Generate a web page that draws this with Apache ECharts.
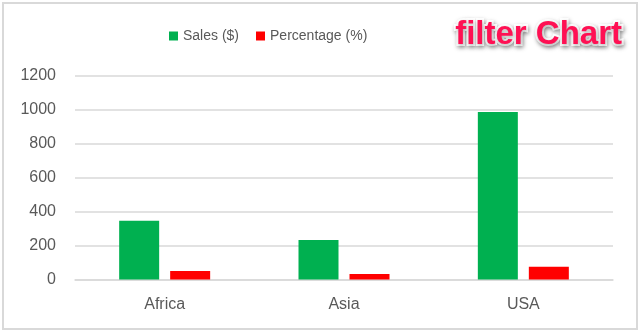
<!DOCTYPE html>
<html>
<head>
<meta charset="utf-8">
<script src="https://cdn.jsdelivr.net/npm/echarts@6/dist/echarts.min.js"></script>
<style>html,body{margin:0;padding:0;background:#fff}#c{width:640px;height:333px}</style>
</head>
<body>
<div id="c"></div>
<script>
var categories = ['Africa', 'Asia', 'USA'];
var salesValues = [345, 233, 985];
var percentValues = [50, 32, 75];
var seriesNames = ['Sales ($)', 'Percentage (%)'];
var yTicks = { min: 0, max: 1200, interval: 200 };
var chartTitle = 'filter Chart';

var chart = echarts.init(document.getElementById('c'), null, { renderer: 'canvas' });
var font = 'Liberation Sans';
chart.setOption({
  animation: false,
  backgroundColor: '#fff',
  title: {
    text: chartTitle,
    right: 9,
    top: 13,
    textStyle: {
      color: '#ff1053',
      fontSize: 33,
      fontWeight: 'bold',
      fontFamily: font,
      textBorderColor: '#fff',
      textBorderWidth: 4,
      textShadowColor: 'rgba(0,0,0,0.35)',
      textShadowBlur: 4,
      textShadowOffsetX: 1,
      textShadowOffsetY: 2
    }
  },
  legend: {
    left: 164,
    top: 24,
    itemWidth: 9,
    itemHeight: 9,
    itemGap: 17,
    icon: 'rect',
    textStyle: { color: '#595959', fontSize: 14, fontFamily: font },
    data: seriesNames
  },
  grid: { left: 75, right: 27, top: 75.5, bottom: 53.5 },
  xAxis: {
    type: 'category',
    data: categories,
    axisLine: { lineStyle: { color: '#d9d9d9', width: 1.5 } },
    axisTick: { show: false },
    axisLabel: { color: '#595959', fontSize: 16, fontFamily: font, margin: 17 }
  },
  yAxis: {
    type: 'value',
    min: yTicks.min,
    max: yTicks.max,
    interval: yTicks.interval,
    axisLine: { show: false },
    axisTick: { show: false },
    splitLine: { lineStyle: { color: '#d9d9d9', width: 1.5 } },
    axisLabel: { color: '#595959', fontSize: 16, fontFamily: font, margin: 19, formatter: function (v) { return String(v); } }
  },
  series: [
    { name: seriesNames[0], type: 'bar', data: salesValues, barWidth: 40, barGap: '27.5%', itemStyle: { color: '#00b050' } },
    { name: seriesNames[1], type: 'bar', data: percentValues, barWidth: 40, barGap: '27.5%', itemStyle: { color: '#ff0000' } }
  ],
  graphic: [{
    type: 'rect',
    shape: { x: 3, y: 3, width: 634, height: 326 },
    style: { fill: null, stroke: '#d9d9d9', lineWidth: 2 },
    silent: true
  }]
});
</script>
</body>
</html>
